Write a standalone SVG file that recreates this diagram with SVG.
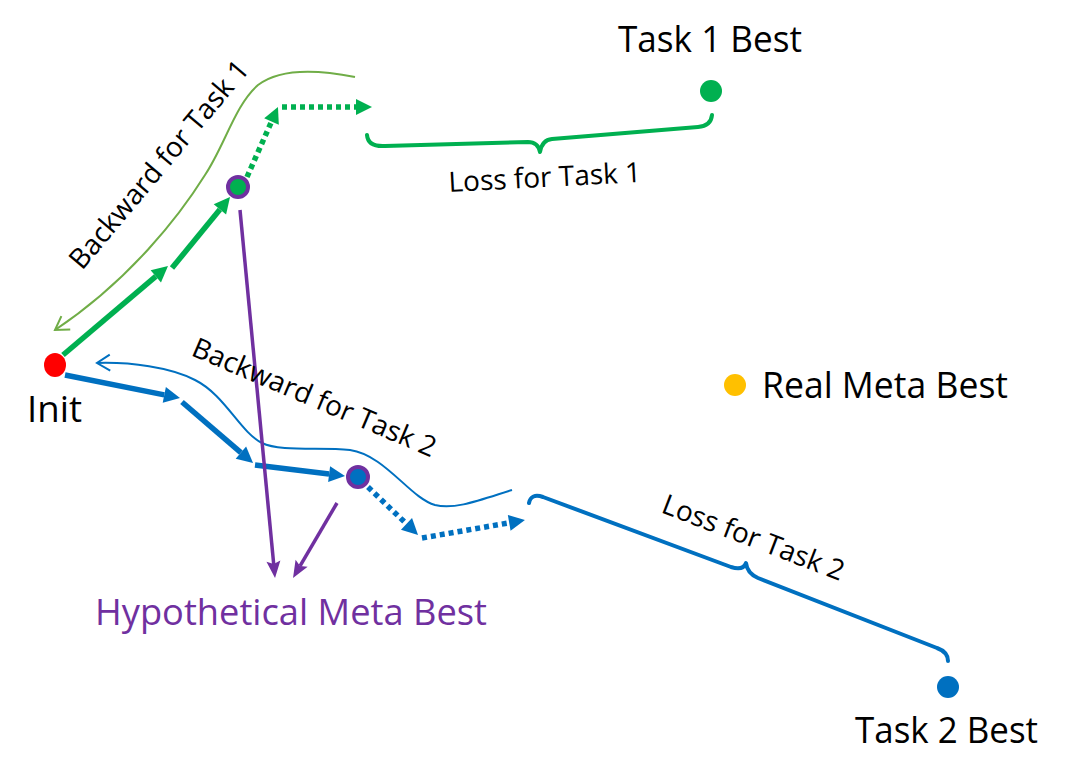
<svg xmlns="http://www.w3.org/2000/svg" width="1066" height="781" viewBox="0 0 1066 781">
<style>
text{font-family:"Open Sans","Liberation Sans",sans-serif;fill:#000}
.big{font-size:36px}
.mid{font-size:28px}
.g{stroke:#00B050;stroke-width:5.5;fill:none}
.b{stroke:#0070C0;stroke-width:5.5;fill:none}
.dot{stroke-dasharray:5 4}
.p{stroke:#7030A0;stroke-width:3.5;fill:none}
.brace{fill:none;stroke-width:4;stroke-linecap:round;stroke-linejoin:round}
</style>
<defs>
<marker id="ag" markerUnits="userSpaceOnUse" viewBox="0 -8 16 16" markerWidth="16" markerHeight="16" refX="0" refY="0" orient="auto" overflow="visible"><path d="M0,-8 L16,0 L0,8 z" fill="#00B050"/></marker>
<marker id="ab" markerUnits="userSpaceOnUse" viewBox="0 -8 16 16" markerWidth="16" markerHeight="16" refX="0" refY="0" orient="auto" overflow="visible"><path d="M0,-8 L16,0 L0,8 z" fill="#0070C0"/></marker>
<marker id="ap" markerUnits="userSpaceOnUse" viewBox="-3 -7 17 14" markerWidth="17" markerHeight="14" refX="0" refY="0" orient="auto" overflow="visible"><path d="M-3,-7 L14,0 L-3,7 L0,0 z" fill="#7030A0"/></marker>
<marker id="og" markerUnits="userSpaceOnUse" viewBox="-14 -9 16 18" markerWidth="16" markerHeight="18" refX="0" refY="0" orient="auto" overflow="visible"><path d="M-13,-8 L0,0 L-13,8" fill="none" stroke="#70AD47" stroke-width="2"/></marker>
<marker id="obl" markerUnits="userSpaceOnUse" viewBox="-14 -9 16 18" markerWidth="16" markerHeight="18" refX="0" refY="0" orient="auto" overflow="visible"><path d="M-13,-8 L0,0 L-13,8" fill="none" stroke="#0070C0" stroke-width="2"/></marker>
</defs>
<g id="connectors">
<path d="M355,77 C320,70 280,68 258,85 C235,105 225,145 205,175 C180,215 130,280 55,330" fill="none" stroke="#70AD47" stroke-width="2" marker-end="url(#og)"/>
<path d="M512,490 C480,500 455,510 435,505 C410,498 385,455 350,450 C320,447 280,452 262,443 C240,432 225,395 195,380 C170,367 130,362 97,363" fill="none" stroke="#0070C0" stroke-width="2" marker-end="url(#obl)"/>
<line class="g" x1="63" y1="355" x2="155.8" y2="276.4" marker-end="url(#ag)"/>
<line class="g" x1="172" y1="268" x2="219.9" y2="209.4" marker-end="url(#ag)"/>
<line class="g dot" x1="247" y1="177" x2="271.5" y2="121.6" marker-end="url(#ag)"/>
<line class="g dot" x1="282" y1="107" x2="356" y2="107" marker-end="url(#ag)"/>
<line class="b" x1="65" y1="375" x2="164.3" y2="394.9" marker-end="url(#ab)"/>
<line class="b" x1="182" y1="402" x2="240.9" y2="452.6" marker-end="url(#ab)"/>
<line class="b" x1="255" y1="465" x2="329.1" y2="474.1" marker-end="url(#ab)"/>
<line class="b dot" x1="368" y1="487" x2="406.5" y2="523.9" marker-end="url(#ab)"/>
<line class="b dot" x1="422" y1="538" x2="509.2" y2="522.8" marker-end="url(#ab)"/>
<line class="p" x1="240" y1="210" x2="273.7" y2="564.1" marker-end="url(#ap)"/>
<line class="p" x1="337" y1="503" x2="300.1" y2="565.9" marker-end="url(#ap)"/>
<path class="brace" stroke="#00B050" d="M367,135 Q368,147 385,146 L528,142 Q538,142 540,152 Q542,140 552,139 L698,127 Q711,126 712,115"/>
<path class="brace" stroke="#0070C0" d="M529,503 Q531,493 543,497 L731,567 Q743,571 746,563 Q747,573 758,578 L937,648 Q948,652 948,661"/>
</g>
<g id="init"><ellipse cx="55" cy="365" rx="11" ry="12" fill="#FF0000"/><text class="big" x="27" y="422" textLength="55" lengthAdjust="spacingAndGlyphs">Init</text></g>
<g id="task1-step"><circle cx="238" cy="187" r="10" fill="#00B050" stroke="#7030A0" stroke-width="4"/></g>
<g id="task2-step"><circle cx="358" cy="477" r="10" fill="#0070C0" stroke="#7030A0" stroke-width="4"/></g>
<g id="task1-best"><circle cx="711" cy="91" r="11" fill="#00B050"/><text class="big" x="618" y="52" textLength="184" lengthAdjust="spacingAndGlyphs">Task 1 Best</text></g>
<g id="real-meta-best"><circle cx="735" cy="385" r="11" fill="#FFC000"/><text class="big" x="762" y="398" textLength="246" lengthAdjust="spacingAndGlyphs">Real Meta Best</text></g>
<g id="task2-best"><circle cx="948" cy="687" r="11" fill="#0070C0"/><text class="big" x="855" y="743" textLength="183" lengthAdjust="spacingAndGlyphs">Task 2 Best</text></g>
<g id="hypothetical-meta-best"><text class="big" x="95" y="625" textLength="392" lengthAdjust="spacingAndGlyphs" style="fill:#7030A0">Hypothetical Meta Best</text></g>
<g id="labels">
<text class="mid" transform="translate(82,271) rotate(-50)">Backward for Task 1</text>
<text class="mid" transform="translate(190,355) rotate(23)">Backward for Task 2</text>
<text class="mid" transform="translate(449,192) rotate(-3)">Loss for Task 1</text>
<text class="mid" transform="translate(660,512) rotate(21)">Loss for Task 2</text>
</g>
</svg>
